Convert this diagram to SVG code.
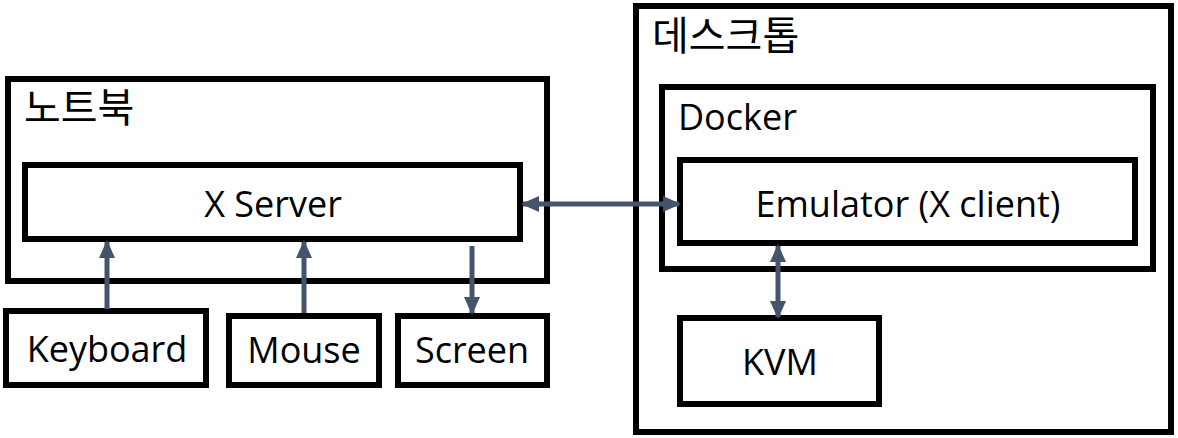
<svg xmlns="http://www.w3.org/2000/svg" width="1178" height="438" viewBox="0 0 1178 438">
<style>
.box{fill:#fff;stroke:#000;stroke-width:6}
.t{font-family:"Open Sans","Noto Sans CJK KR",sans-serif;font-size:36px;fill:#000}
.k{font-family:"Noto Sans CJK KR",sans-serif;font-size:40px;fill:#000}
.c{text-anchor:middle}
.a{stroke:#44546A;stroke-width:5;fill:none}
</style>
<defs>
<marker id="ah" markerUnits="userSpaceOnUse" markerWidth="18" markerHeight="18" viewBox="0 0 18 18" refX="16" refY="9" orient="auto-start-reverse">
<path d="M0,1 L18,9 L0,17 Z" fill="#44546A"/>
</marker>
</defs>
<rect width="1178" height="438" fill="#fff"/>
<g id="notebook">
<rect class="box" x="8" y="79" width="539" height="202"/>
<text class="k" x="24" y="122">노트북</text>
</g>
<g id="xserver">
<rect class="box" x="25" y="165" width="495" height="74"/>
<text class="t c" x="273" y="217">X Server</text>
</g>
<g id="keyboard">
<rect class="box" x="6" y="311" width="200" height="74"/>
<text class="t c" x="107" y="362">Keyboard</text>
</g>
<g id="mouse">
<rect class="box" x="229" y="316" width="150" height="69"/>
<text class="t c" x="304" y="363">Mouse</text>
</g>
<g id="screen">
<rect class="box" x="398" y="316" width="149" height="69"/>
<text class="t c" x="472" y="363">Screen</text>
</g>
<g id="desktop">
<rect class="box" x="636" y="6" width="535" height="426"/>
<text class="k" x="652" y="50">데스크톱</text>
</g>
<g id="docker">
<rect class="box" x="662" y="87" width="491" height="182"/>
<text class="t" x="678" y="130">Docker</text>
</g>
<g id="emulator">
<rect class="box" x="680" y="160" width="455" height="83"/>
<text class="t c" x="908" y="217">Emulator (X client)</text>
</g>
<g id="kvm">
<rect class="box" x="680" y="318" width="199" height="86"/>
<text class="t c" x="780" y="375">KVM</text>
</g>
<g id="connectors">
<line class="a" x1="107" y1="309" x2="107" y2="242" marker-end="url(#ah)"/>
<line class="a" x1="304" y1="313" x2="304" y2="242" marker-end="url(#ah)"/>
<line class="a" x1="472" y1="246" x2="472" y2="313" marker-end="url(#ah)"/>
<line class="a" x1="523" y1="204" x2="679" y2="204" marker-start="url(#ah)" marker-end="url(#ah)"/>
<line class="a" x1="778" y1="246" x2="778" y2="317" marker-start="url(#ah)" marker-end="url(#ah)"/>
</g>
</svg>
